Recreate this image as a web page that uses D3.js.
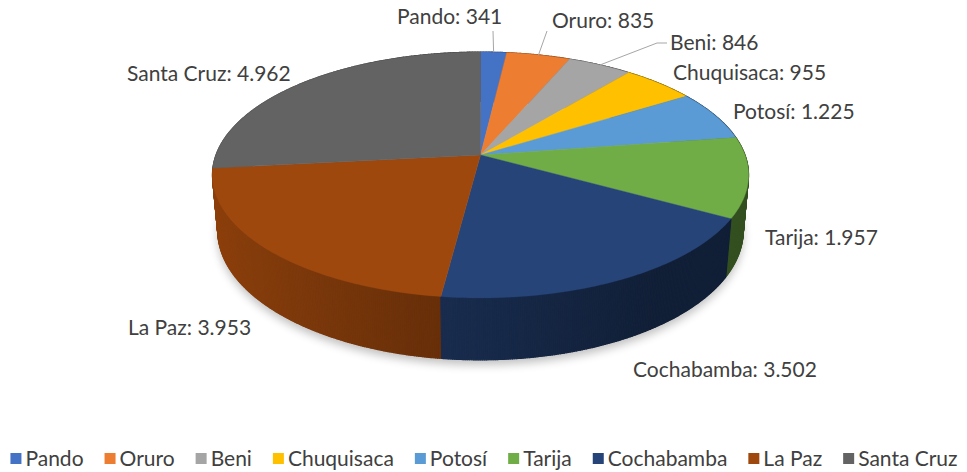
<!DOCTYPE html>
<html>
<head>
<meta charset="utf-8">
<script src="https://cdn.jsdelivr.net/npm/d3@7"></script>
<style>
  body { margin: 0; background: #fff; }
  text { font-family: Lato, "Open Sans", sans-serif; fill: #404040; }
</style>
</head>
<body>
<svg id="chart" width="967" height="472"></svg>
<script>
var departments = ["Pando", "Oruro", "Beni", "Chuquisaca", "Potosí", "Tarija", "Cochabamba", "La Paz", "Santa Cruz"];
var totals = [341, 835, 846, 955, 1225, 1957, 3502, 3953, 4962];
var colors = ["#4472C4", "#ED7D31", "#A5A5A5", "#FFC000", "#5B9BD5", "#70AD47", "#264478", "#9E480E", "#636363"];

// where the data labels sit (left x, baseline y), placed by hand like excel's "best fit"
var labelPos = [[397, 24], [552, 28], [670, 50], [673, 80], [733, 119], [765, 245], [633, 377], [128, 335], [127, 81]];
// leader lines only for the thin slices at the back
var leaderStart = { 0: [[493, 31]], 1: [[547, 31]], 2: [[667, 43], [657, 43]] };

var fontSize = 21;

var svg = d3.select("#chart");
var esFormat = d3.formatLocale({ decimal: ",", thousands: ".", grouping: [3], currency: ["", ""] }).format(",");

// 3d projection of a unit disc seen from above-front with a bit of perspective
var cx = 480.5, cy = 155, focal = 1452, dist = 5.49, tilt = 26.9 * Math.PI / 180, depth = 0.237;
var ct = Math.cos(tilt), st = Math.sin(tilt);

function project(a, r, w) {
    var u = r * Math.sin(a), v = r * Math.cos(a);
    var z = dist + v * ct - w * st;
    return [cx + focal * u / z, cy - focal * (w * ct + v * st) / z];
}

function arcPoints(a0, a1, w) {
    var n = Math.max(2, Math.ceil((a1 - a0) / (Math.PI / 180)));
    return d3.range(n + 1).map(function(i) { return project(a0 + (a1 - a0) * i / n, 1, w); });
}

var line = d3.line();
var slices = d3.pie().sort(null).value(function(d) { return d; })(totals);

var defs = svg.append("defs");
defs.append("filter").attr("id", "blur")
    .attr("x", "-20%").attr("y", "-20%").attr("width", "140%").attr("height", "140%")
    .append("feGaussianBlur").attr("stdDeviation", 5);

// soft shadow under the pie
var shadowRing = arcPoints(0, 2 * Math.PI, -depth).map(function(p) { return [p[0], p[1] + 5]; });
svg.append("path")
    .attr("d", line(shadowRing) + "Z")
    .attr("fill", "#000")
    .attr("opacity", 0.25)
    .attr("filter", "url(#blur)");

// outer walls, cut in thin strips so they can be shaded by direction
var step = Math.PI / 450;
var strips = [];
slices.forEach(function(s, i) {
    var n = Math.max(1, Math.ceil((s.endAngle - s.startAngle) / step));
    for (var k = 0; k < n; k++) {
        var a0 = s.startAngle + (s.endAngle - s.startAngle) * k / n;
        var a1 = s.startAngle + (s.endAngle - s.startAngle) * (k + 1) / n;
        strips.push({ i: i, a0: a0, a1: a1, mid: (a0 + a1) / 2 });
    }
});
strips.sort(function(a, b) { return Math.cos(b.mid) - Math.cos(a.mid); });

function wallColor(d) {
    var k = Math.max(0.46, 0.62 - 0.28 * Math.sin(d.mid));
    var c = d3.rgb(colors[d.i]);
    return d3.rgb(c.r * k, c.g * k, c.b * k).toString();
}

svg.append("g").selectAll("path")
    .data(strips)
    .join("path")
    .attr("d", function(d) {
        var pts = [project(d.a0, 1, 0), project(d.a1, 1, 0), project(d.a1, 1, -depth), project(d.a0, 1, -depth)];
        return line(pts) + "Z";
    })
    .attr("fill", wallColor)
    .attr("stroke", wallColor)
    .attr("stroke-width", 1.2)
    .attr("stroke-linejoin", "round");

// top faces
svg.append("g").selectAll("path")
    .data(slices)
    .join("path")
    .attr("d", function(d) {
        return line([project(0, 0, 0)].concat(arcPoints(d.startAngle, d.endAngle, 0))) + "Z";
    })
    .attr("fill", function(d, i) { return colors[i]; })
    .attr("stroke", function(d, i) { return colors[i]; })
    .attr("stroke-width", 0.4);

// leader lines
slices.forEach(function(s, i) {
    if (!leaderStart[i]) return;
    var end = project((s.startAngle + s.endAngle) / 2, 1, 0);
    svg.append("path")
        .attr("d", line(leaderStart[i].concat([end])))
        .attr("fill", "none")
        .attr("stroke", "#A6A6A6")
        .attr("stroke-width", 1);
});

// data labels
svg.append("g").selectAll("text")
    .data(slices)
    .join("text")
    .attr("x", function(d, i) { return labelPos[i][0]; })
    .attr("y", function(d, i) { return labelPos[i][1]; })
    .attr("font-size", fontSize)
    .text(function(d, i) { return departments[i] + ": " + esFormat(d.value); });

// legend along the bottom
var legend = svg.append("g");
var lx = 0, gap = 21;
departments.forEach(function(name, i) {
    var item = legend.append("g").attr("transform", "translate(" + lx + ",0)");
    item.append("rect")
        .attr("x", 0).attr("y", 453)
        .attr("width", 11).attr("height", 11)
        .attr("fill", colors[i]);
    var t = item.append("text")
        .attr("x", 15).attr("y", 466)
        .attr("font-size", fontSize)
        .text(name);
    lx += 15 + t.node().getComputedTextLength() + gap;
});
lx -= gap;
legend.attr("transform", "translate(" + (484 - lx / 2) + ",0)");
</script>
</body>
</html>
